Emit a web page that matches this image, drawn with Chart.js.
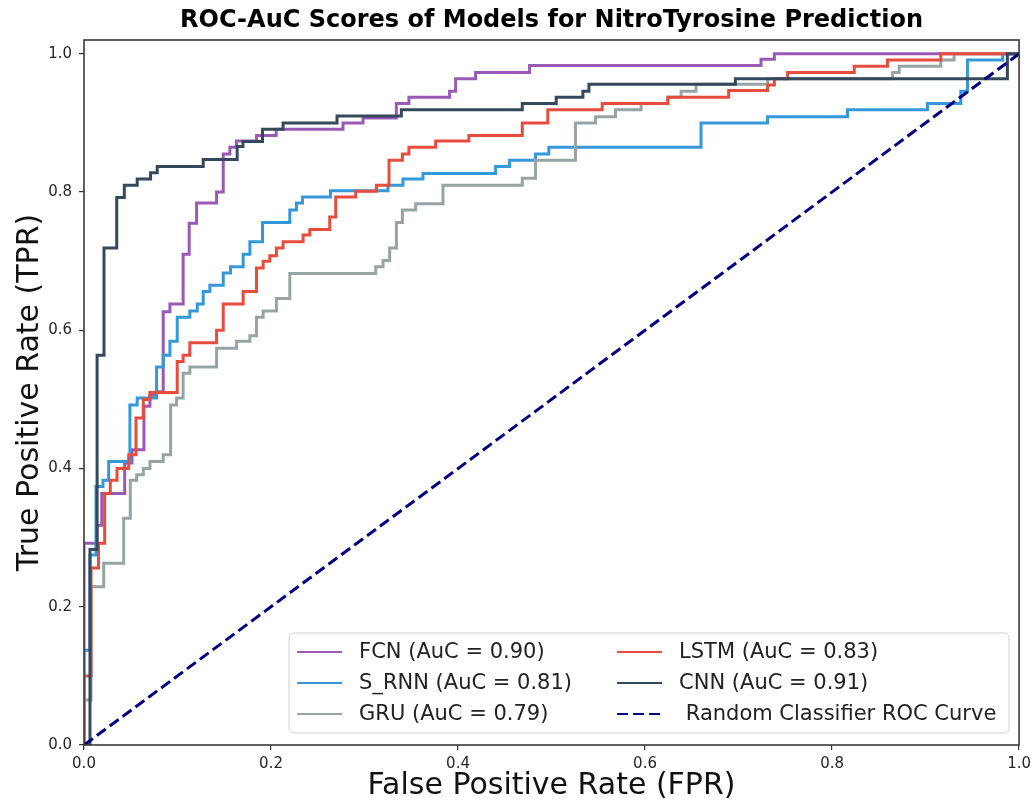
<!DOCTYPE html>
<html>
<head>
<meta charset="utf-8">
<title>ROC-AuC Scores of Models for NitroTyrosine Prediction</title>
<script src="https://cdn.jsdelivr.net/npm/chart.js@4.4.1/dist/chart.umd.min.js"></script>
<style>
  html, body { margin: 0; padding: 0; background: #fff; }
  #wrap { width: 1036px; height: 804px; }
</style>
</head>
<body>
<div id="wrap"><canvas id="roc" width="1036" height="804"></canvas></div>
<script>
// ROC curves. Each point is the right end of a
// horizontal run at that TPR level (drawn with stepped: 'after').
const fcnFpr = [0, 0.0139, 0.019, 0.0435, 0.0513, 0.0641, 0.0705, 0.0776, 0.0847, 0.0919, 0.106, 0.1125, 0.1204, 0.1418, 0.1489, 0.156, 0.1631, 0.1845, 0.2055, 0.277, 0.2984, 0.334, 0.3475, 0.391, 0.3974, 0.4188, 0.4765, 0.724, 0.7383, 1.0];
const fcnTpr = [0, 0.292, 0.318, 0.364, 0.408, 0.427, 0.49, 0.506, 0.511, 0.627, 0.638, 0.710, 0.755, 0.784, 0.800, 0.855, 0.865, 0.874, 0.882, 0.891, 0.900, 0.907, 0.928, 0.937, 0.946, 0.964, 0.973, 0.983, 0.992, 1.0];

const srnnFpr = [0, 0.0064, 0.0128, 0.0203, 0.0264, 0.0491, 0.0569, 0.0776, 0.0847, 0.0919, 0.0997, 0.1132, 0.1211, 0.1275, 0.1346, 0.1489, 0.1567, 0.1702, 0.1774, 0.1909, 0.2201, 0.2272, 0.2336, 0.2636, 0.3251, 0.3411, 0.3625, 0.4402, 0.4551, 0.4829, 0.4971, 0.6599, 0.731, 0.8165, 0.902, 0.9377, 0.9448, 0.9825, 1.0];
const srnnTpr = [0, 0.137, 0.275, 0.374, 0.383, 0.41, 0.492, 0.502, 0.547, 0.564, 0.584, 0.619, 0.628, 0.638, 0.656, 0.665, 0.683, 0.692, 0.71, 0.728, 0.756, 0.774, 0.784, 0.793, 0.802, 0.81, 0.819, 0.827, 0.837, 0.846, 0.855, 0.865, 0.9, 0.909, 0.919, 0.928, 0.946, 0.991, 1.0];

const gruFpr = [0, 0.0075, 0.0211, 0.0424, 0.0495, 0.0563, 0.0634, 0.0705, 0.0847, 0.0926, 0.099, 0.106, 0.1132, 0.1418, 0.1631, 0.1774, 0.1845, 0.1916, 0.2058, 0.2201, 0.312, 0.3198, 0.3269, 0.3341, 0.3405, 0.3547, 0.3839, 0.4687, 0.4829, 0.5256, 0.547, 0.5684, 0.5958, 0.6244, 0.6386, 0.6545, 0.7311, 0.8647, 0.8718, 0.9163, 0.9305, 1.0];
const gruTpr = [0, 0.065, 0.229, 0.263, 0.328, 0.383, 0.391, 0.4, 0.41, 0.42, 0.492, 0.502, 0.538, 0.547, 0.574, 0.584, 0.592, 0.619, 0.628, 0.646, 0.682, 0.692, 0.701, 0.719, 0.756, 0.774, 0.783, 0.81, 0.82, 0.846, 0.9, 0.909, 0.919, 0.928, 0.937, 0.946, 0.956, 0.964, 0.973, 0.982, 0.991, 1.0];

const lstmFpr = [0, 0.0075, 0.0155, 0.0221, 0.0281, 0.0353, 0.0478, 0.0556, 0.0634, 0.0705, 0.0997, 0.106, 0.1132, 0.1418, 0.1489, 0.1702, 0.1845, 0.1916, 0.1987, 0.2058, 0.2129, 0.2343, 0.2415, 0.2628, 0.2692, 0.2906, 0.3127, 0.3262, 0.3405, 0.3475, 0.3761, 0.4116, 0.4687, 0.496, 0.5542, 0.6244, 0.6894, 0.7311, 0.7383, 0.7525, 0.8237, 0.8593, 0.9163, 1.0];
const lstmTpr = [0, 0.1, 0.256, 0.292, 0.364, 0.383, 0.4, 0.42, 0.473, 0.5, 0.51, 0.555, 0.564, 0.582, 0.6, 0.638, 0.656, 0.69, 0.70, 0.708, 0.719, 0.728, 0.738, 0.746, 0.764, 0.793, 0.801, 0.81, 0.846, 0.855, 0.865, 0.874, 0.882, 0.9, 0.919, 0.928, 0.937, 0.947, 0.955, 0.964, 0.973, 0.982, 0.991, 1.0];

const cnnFpr = [0, 0.0064, 0.014, 0.0214, 0.035, 0.0431, 0.0569, 0.0712, 0.0783, 0.1275, 0.1638, 0.170, 0.1909, 0.2129, 0.2706, 0.3394, 0.4687, 0.505, 0.5335, 0.540, 0.6966, 0.9875, 1.0];
const cnnTpr = [0, 0, 0.283, 0.564, 0.719, 0.792, 0.810, 0.819, 0.828, 0.837, 0.847, 0.866, 0.873, 0.891, 0.900, 0.910, 0.919, 0.928, 0.937, 0.946, 0.956, 0.964, 1.0];

const randomFpr = [0, 1];
const randomTpr = [0, 1];

const xTickValues = [0, 0.2, 0.4, 0.6, 0.8, 1.0];
const yTickValues = [0, 0.2, 0.4, 0.6, 0.8, 1.0];

const models = [
  { label: 'FCN (AuC = 0.90)', fpr: fcnFpr, tpr: fcnTpr, color: '#9b59b6' },
  { label: 'S_RNN (AuC = 0.81)', fpr: srnnFpr, tpr: srnnTpr, color: '#3498db' },
  { label: 'GRU (AuC = 0.79)', fpr: gruFpr, tpr: gruTpr, color: '#95a5a6' },
  { label: 'LSTM (AuC = 0.83)', fpr: lstmFpr, tpr: lstmTpr, color: '#e74c3c' },
  { label: 'CNN (AuC = 0.91)', fpr: cnnFpr, tpr: cnnTpr, color: '#34495e' },
];

const toPoints = (fpr, tpr) => fpr.map((x, i) => ({ x, y: tpr[i] }));

const datasets = models.map((m, i) => ({
  label: m.label,
  data: toPoints(m.fpr, m.tpr),
  borderColor: m.color,
  borderWidth: 3,
  stepped: 'after',
  pointRadius: 0,
  fill: false,
  order: models.length - i,
}));
datasets.push({
  label: ' Random Classifier ROC Curve',
  data: toPoints(randomFpr, randomTpr),
  borderColor: '#000080',
  borderWidth: 3,
  borderDash: [11, 5],
  pointRadius: 0,
  fill: false,
  order: 0,
});

// matplotlib-like box around the axes
const frame = {
  id: 'frame',
  afterDatasetsDraw(chart) {
    const { ctx, chartArea: a } = chart;
    ctx.save();
    ctx.strokeStyle = '#3a3a3a';
    ctx.lineWidth = 1.6;
    ctx.strokeRect(a.left, a.top, a.right - a.left, a.bottom - a.top);
    ctx.restore();
  },
};

// two-column legend in the lower right, filled column by column
const boxLegend = {
  id: 'boxLegend',
  afterDraw(chart) {
    const { ctx, chartArea: a } = chart;
    const w = 720, h = 100;
    const left = a.right - 10 - w;
    const top = a.bottom - 12 - h;
    ctx.save();
    ctx.beginPath();
    ctx.roundRect(left, top, w, h, 5);
    ctx.fillStyle = 'rgba(255,255,255,0.85)';
    ctx.fill();
    ctx.strokeStyle = '#d0d0d0';
    ctx.lineWidth = 1;
    ctx.stroke();

    ctx.font = '21px "DejaVu Sans"';
    ctx.textBaseline = 'middle';
    ctx.fillStyle = '#222';
    chart.data.datasets.forEach((ds, i) => {
      const col = Math.floor(i / 3);
      const row = i % 3;
      const x = left + 8 + col * 320;
      const y = top + 19 + row * 31;
      ctx.beginPath();
      ctx.strokeStyle = ds.borderColor;
      ctx.lineWidth = 2.2;
      ctx.setLineDash(ds.borderDash || []);
      ctx.moveTo(x, y);
      ctx.lineTo(x + 45, y);
      ctx.stroke();
      ctx.setLineDash([]);
      ctx.fillText(ds.label, x + 62, y + 1);
    });
    ctx.restore();
  },
};

const tickFont = { family: 'DejaVu Sans', size: 15 };
const titleFont = { family: 'DejaVu Sans', size: 30 };

new Chart(document.getElementById('roc'), {
  type: 'line',
  data: { datasets },
  options: {
    responsive: false,
    animation: false,
    devicePixelRatio: 1,
    layout: { padding: { left: 0, right: 16, top: 0, bottom: 0 } },
    plugins: {
      legend: { display: false },
      tooltip: { enabled: false },
      title: {
        display: true,
        text: 'ROC-AuC Scores of Models for NitroTyrosine Prediction',
        fullSize: false,
        color: '#000',
        font: { family: 'DejaVu Sans', size: 24, weight: 'bold' },
        padding: { top: 6, bottom: 5.2 },
      },
    },
    scales: {
      x: {
        type: 'linear',
        min: 0,
        max: 1,
        afterBuildTicks: (scale) => { scale.ticks = xTickValues.map((v) => ({ value: v })); },
        afterFit: (scale) => { scale.height = 59; },
        border: { display: false },
        grid: { display: true, drawOnChartArea: false, drawTicks: true, tickLength: 5, color: '#333', lineWidth: 1.2 },
        ticks: { font: tickFont, color: '#262626', padding: 5, maxRotation: 0, callback: (v) => Number(v).toFixed(1) },
        title: { display: true, text: 'False Positive Rate (FPR)', font: titleFont, color: '#111', padding: { top: 0, bottom: 0 } },
      },
      y: {
        type: 'linear',
        min: 0,
        max: 1.02,
        afterBuildTicks: (scale) => { scale.ticks = yTickValues.map((v) => ({ value: v })); },
        afterFit: (scale) => { scale.width = 84; },
        border: { display: false },
        grid: { display: true, drawOnChartArea: false, drawTicks: true, tickLength: 5, color: '#333', lineWidth: 1.2 },
        ticks: { font: tickFont, color: '#262626', padding: 7, callback: (v) => Number(v).toFixed(1) },
        title: { display: true, text: 'True Positive Rate (TPR)', font: titleFont, color: '#111', padding: { top: 12, bottom: 0 } },
      },
    },
  },
  plugins: [frame, boxLegend],
});
</script>
</body>
</html>
